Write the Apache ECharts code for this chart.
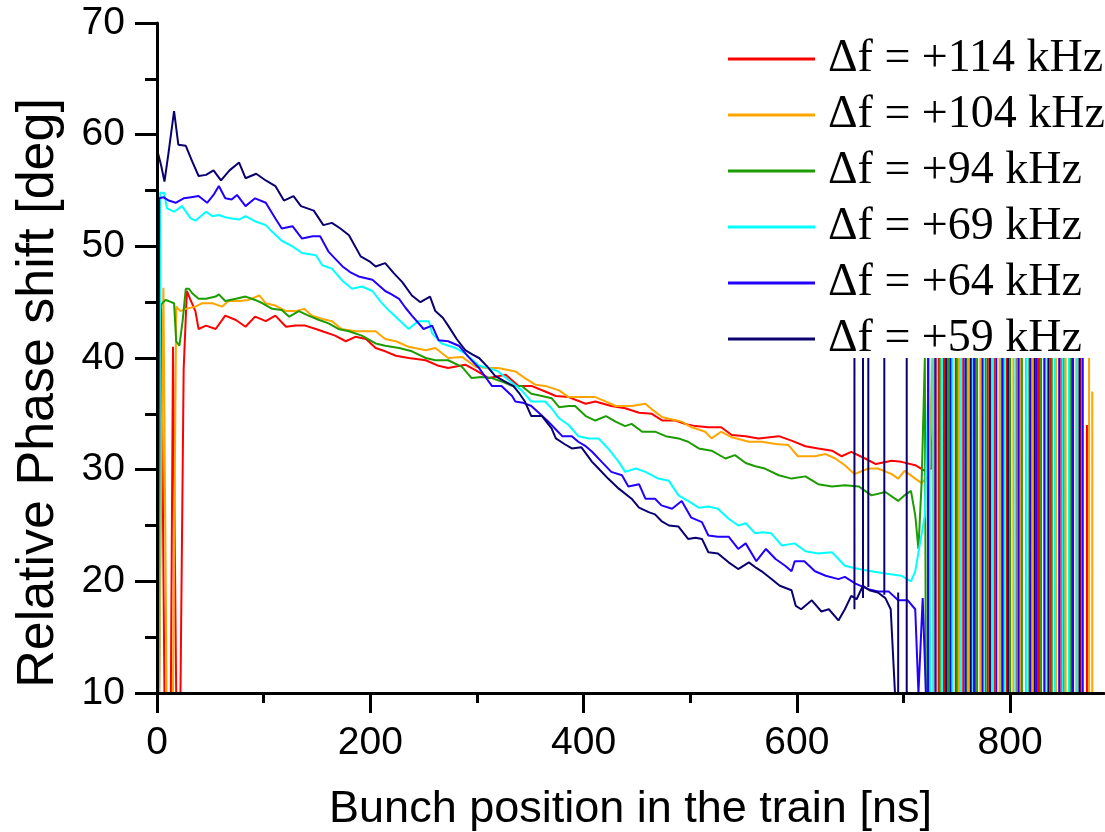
<!DOCTYPE html>
<html>
<head>
	<meta charset="utf-8">
	<title>Relative phase shift along the bunch train</title>
	<script src="https://cdn.jsdelivr.net/npm/echarts@6/dist/echarts.min.js"></script>
	<style>
		html, body { margin: 0; padding: 0; background: #fff; }
		#chart { width: 1105px; height: 832px; }
	</style>
</head>
<body>
<div id="chart"></div>
<script>
	// legend labels, top to bottom
	var names = ['Δf = +114 kHz', 'Δf = +104 kHz', 'Δf = +94 kHz', 'Δf = +69 kHz', 'Δf = +64 kHz', 'Δf = +59 kHz'];
	var colors = ['#ff0000', '#ffa500', '#1c9c00', '#00ffff', '#2200ff', '#0a0070'];

	var xTicks = [0, 200, 400, 600, 800];
	var xMinorTicks = [100, 300, 500, 700];

	// [position ns, phase deg]
	var f114 = [[2,10],[4,44.5],[7,10],[13,10],[15,41],[18,10],[22,10],[25,39],[28,46],[31,45.3],[36,44.2],[39,42.6],[46,42.9],[55,42.6],[64,43.8],[74,43.4],[83,42.8],[92,43.7],[102,43.3],[111,43.8],[121,42.8],[130,42.9],[139,42.9],[149,42.6],[155,42.4],[167,42.0],[177,41.5],[186,41.9],[196,41.7],[205,40.9],[214,40.6],[224,40.2],[236,40.0],[252,39.8],[264,39.3],[273,39.1],[289,39.4],[299,38.9],[311,38.2],[327,38.5],[339,37.5],[351,37.5],[364,37.0],[374,36.6],[386,36.5],[402,35.9],[411,36.1],[426,35.7],[439,35.5],[452,35.1],[464,35.0],[474,34.4],[486,34.4],[495,34.1],[505,33.9],[517,33.8],[529,33.8],[539,33.1],[552,33.0],[564,32.8],[583,33.0],[595,32.6],[608,32.1],[620,31.9],[633,31.7],[642,31.2],[651,31.6],[664,31.0],[674,30.5],[689,30.8],[698,30.7],[711,30.4],[720,29.9],[726,30.1],[729,40],[730,10]];
	var f104 = [[0,43],[2,10],[6,46.3],[9,10],[15,10],[18,44.6],[22,44.2],[27,44.4],[36,44.6],[42,44.9],[52,44.9],[61,44.6],[67,45.1],[77,45.1],[86,45.2],[96,45.6],[102,44.9],[111,44.7],[121,44.2],[130,44.2],[138,44.4],[145,43.8],[155,43.5],[164,43.3],[173,42.6],[186,42.4],[196,42.4],[205,42.4],[214,41.7],[224,41.5],[236,41.0],[252,40.7],[261,40.9],[273,40.0],[286,40.1],[299,39.2],[311,39.1],[320,39.1],[336,38.8],[345,38.2],[355,37.6],[364,37.5],[377,37.1],[386,36.5],[398,36.5],[411,36.5],[421,36.1],[430,35.7],[445,35.7],[458,35.9],[464,35.4],[474,34.7],[483,34.5],[492,34.3],[501,33.8],[508,33.6],[514,33.4],[520,32.8],[529,33.4],[539,32.9],[555,32.5],[567,32.5],[580,32.3],[592,32.2],[601,31.2],[617,31.2],[627,31.4],[636,31.0],[645,30.4],[654,29.6],[667,30.1],[676,30.1],[689,29.6],[695,29.2],[701,29.9],[711,29.2],[717,28.8],[724,29.5],[727,40],[728,10]];
	var f94 = [[0,42],[4,44.8],[8,45.2],[11,45.1],[16,44.9],[18,41.5],[21,41.1],[24,43.3],[27,46.2],[30,46.2],[33,45.8],[39,45.3],[46,45.3],[55,45.5],[58,45.7],[64,45.1],[74,45.3],[83,45.5],[92,45.2],[99,44.9],[108,44.4],[117,44.3],[124,43.7],[133,44.2],[142,43.8],[152,43.4],[161,43.1],[170,42.6],[180,42.4],[192,42.0],[205,41.3],[214,41.1],[227,40.9],[239,40.6],[252,40.0],[261,39.8],[273,39.8],[286,39.2],[295,38.2],[304,38.3],[314,38.2],[323,37.9],[333,37.5],[342,37.5],[351,36.8],[361,36.6],[370,36.4],[377,35.6],[386,35.7],[392,35.7],[402,34.8],[411,34.4],[421,34.8],[430,34.3],[439,33.9],[445,34.1],[455,33.4],[467,33.4],[477,33.0],[489,32.8],[498,32.5],[508,31.9],[520,31.7],[533,31.0],[542,31.3],[552,30.6],[561,30.3],[570,30.1],[583,29.5],[595,29.2],[608,29.4],[620,28.7],[633,28.5],[645,28.6],[658,28.5],[670,27.7],[683,28.0],[695,27.2],[701,27.7],[707,28.1],[711,25.9],[714,22.9],[717,28.9],[720,40],[721,10]];
	var f69 = [[2,10],[3,54.8],[6.6,54.8],[9.4,53.4],[16,53.1],[23.5,53.6],[31.6,52.5],[36,52.3],[46,53.1],[52,52.7],[58,52.8],[64,52.6],[70,52.5],[77,52.4],[83,52.7],[93,52.2],[102,51.9],[108,51.3],[117,50.5],[127,50.0],[136,49.4],[149,49.2],[155,48.3],[164,48.0],[174,46.9],[183,46.2],[192,46.4],[202,46.0],[210,45.0],[218,44.2],[227,43.4],[236,42.6],[245,43.3],[255,43.3],[258,42.2],[267,41.3],[280,40.9],[289,40.4],[302,39.3],[311,39.1],[320,38.8],[330,38.0],[342,37.1],[351,36.1],[364,36.1],[370,35.5],[377,34.6],[386,34.0],[395,33.0],[405,32.8],[414,32.8],[423,31.9],[433,30.7],[439,29.8],[449,30.1],[458,29.8],[470,29.2],[480,29.0],[489,27.7],[498,27.2],[508,26.6],[517,26.7],[526,26.5],[536,25.6],[545,25.0],[552,25.2],[561,24.3],[568,24.4],[576,24.3],[586,23.2],[598,23.4],[608,22.7],[620,22.5],[633,22.6],[645,21.4],[658,21.1],[670,20.9],[683,20.7],[698,20.5],[707,20.0],[711,20.9],[714,22.6],[720,25.9],[724,40],[725,10]];
	var f64 = [[1,10],[2,54.3],[6,54.4],[11,54.1],[17.5,53.9],[25,54.3],[32,54.4],[39,54.5],[47,53.9],[53,54.6],[58,55.4],[64,54.3],[70,54.2],[75,54.6],[83,53.6],[92,54.3],[102,53.9],[111,52.5],[117,51.6],[127,51.8],[136,50.7],[146,50.9],[153,50.9],[161,49.5],[167,48.9],[174,48.2],[181,47.7],[189,47.3],[202,47.0],[214,46.0],[220,45.7],[227,45.3],[233,44.5],[239,43.8],[250,42.6],[258,42.9],[264,41.6],[273,41.5],[283,41.1],[292,40.1],[302,39.1],[308,38.3],[314,37.5],[323,37.5],[333,36.6],[336,36.1],[343,36.0],[351,35.7],[359,35.0],[367,34.3],[374,33.6],[380,33.0],[389,33.0],[395,32.5],[402,32.1],[408,31.6],[417,30.7],[426,29.8],[436,29.5],[442,28.5],[452,28.7],[458,27.4],[467,27.4],[473,26.8],[483,26.5],[492,27.2],[501,25.7],[511,25.3],[517,24.1],[526,24.0],[536,24.0],[545,22.9],[552,23.4],[562,21.8],[571,22.9],[580,22.0],[589,21.4],[595,20.9],[598,21.8],[607,21.8],[617,20.9],[627,20.5],[639,20.2],[645,20.4],[655,19.8],[667,19.3],[676,19.1],[686,19.1],[695,18.3],[704,18.3],[711,17.5],[714,10],[718,18.5],[721,10]];
	var f59 = [[0,58.7],[4,57.2],[7,55.8],[11,58.5],[16,62.1],[20,59.1],[27,59.0],[33,57.6],[39,56.3],[46,56.4],[53,56.8],[60,55.9],[68,56.8],[77,57.5],[83,56.1],[93,56.5],[102,55.9],[111,55.4],[119,54.1],[128,54.5],[135,53.6],[147,53.2],[156,51.9],[164,52.1],[172,51.6],[180,51.0],[191,49.1],[200,48.6],[205,48.2],[214,48.5],[222,47.6],[230,46.8],[239,45.6],[247,45.0],[256,45.5],[261,44.2],[268,43.6],[273,42.9],[281,41.7],[289,40.7],[296,40.3],[302,40.0],[310,39.2],[317,38.4],[326,37.9],[334,37.5],[340,36.8],[345,36.1],[351,34.8],[361,34.8],[370,33.7],[374,32.8],[382,32.3],[389,31.9],[398,32.0],[408,30.7],[414,30.1],[423,29.2],[433,28.3],[445,27.4],[452,26.6],[461,26.2],[467,26.0],[473,25.4],[480,25.0],[489,24.9],[498,23.8],[505,23.9],[511,23.8],[517,22.6],[526,22.5],[536,21.7],[545,21.1],[555,21.7],[562,21.2],[567,20.9],[575,20.3],[584,19.6],[595,19.2],[599,17.8],[604,17.5],[614,18.3],[623,17.3],[630,17.5],[639,16.5],[645,17.5],[651,18.7],[656,18.4],[662,19.6],[668,19.2],[676,19.0],[683,18.5],[688,17.5],[692,10]];

	// noisy vertical strokes past the end of the train: [position ns, low deg, high deg]
	var spikes114 = [[733,10,40],[738,10,40],[749,10,40],[756,10,40],[767,10,40],[779,10,40],[785,10,40],[797,10,40],[806,10,40],[815,10,40],[827,10,40],[838,10,40],[848,10,40],[858,10,40],[866,10,40],[872,10,34]];
	var spikes104 = [[731,10,40],[744,10,40],[752,10,40],[761,10,40],[772,10,40],[782,10,40],[790,10,40],[803,10,40],[810,10,40],[821,10,40],[833,10,40],[843,10,40],[852,10,40],[862,10,40],[868,10,40],[874,10,40],[877,10,37]];
	var spikes94 = [[724,10,40],[734,10,40],[742,10,40],[750,10,40],[759,10,40],[769,10,40],[777,10,40],[792,10,40],[800,10,40],[811,10,40],[818,10,40],[829,10,40],[839,10,40],[850,10,40],[856,10,40]];
	var spikes69 = [[728,10,40],[736,10,40],[746,10,40],[754,10,40],[764,10,40],[775,10,40],[784,10,40],[795,10,40],[805,10,40],[815,10,40],[824,10,40],[835,10,40],[842,10,40],[849,10,40],[855,10,40],[863,10,40]];
	var spikes64 = [[723,10,40],[730,10,40],[740,10,40],[744,10,40],[758,10,40],[766,10,40],[774,10,40],[787,10,40],[793,10,40],[808,10,40],[819,10,40],[825,10,40],[832,10,40],[846,10,40],[859,10,40],[868,10,40]];
	var spikes59 = [[654,17.5,40],[662,18.5,40],[667,19.5,40],[682,18.8,40],[695,10,19],[703,10,40],[740,10,40],[763,10,40],[781,10,40],[798,10,40],[823,10,40],[836,10,40],[865,10,40]];

	function build(main, spikes) {
		var d = main.slice();
		spikes.forEach(function (s) {
			d.push([s[0], '-']);
			d.push([s[0], s[1]]);
			d.push([s[0], s[2]]);
		});
		return d;
	}

	var curves = [build(f114, spikes114), build(f104, spikes104), build(f94, spikes94),
		build(f69, spikes69), build(f64, spikes64), build(f59, spikes59)];

	var sans = '"Liberation Sans", Arial, Helvetica, sans-serif';
	var serif = '"Liberation Serif", "Times New Roman", serif';
	var black = { color: '#000', width: 3 };

	var chart = echarts.init(document.getElementById('chart'));
	chart.setOption({
		animation: false,
		backgroundColor: '#fff',
		grid: { left: 157, right: 1, top: 23, bottom: 139, containLabel: false, outerBoundsMode: 'none' },
		legend: {
			orient: 'vertical',
			left: 723,
			top: 31,
			icon: 'rect',
			itemWidth: 87,
			itemHeight: 3,
			itemGap: 10,
			textStyle: { fontFamily: serif, fontSize: 46, color: '#000', padding: [0, 0, 0, 8] },
			data: names
		},
		xAxis: [{
			type: 'value', min: 0, max: 888, position: 'bottom', z: 10,
			axisLine: { show: true, lineStyle: black },
			axisTick: { show: true, customValues: xTicks, length: 20, lineStyle: black },
			axisLabel: { customValues: xTicks, fontFamily: sans, fontSize: 39, color: '#000', margin: 31 },
			splitLine: { show: false },
			name: 'Bunch position in the train [ns]',
			nameLocation: 'middle',
			nameGap: 94,
			nameTextStyle: { fontFamily: sans, fontSize: 45, color: '#000' }
		}, {
			type: 'value', min: 0, max: 888, position: 'bottom', z: 10,
			axisLine: { show: false },
			axisTick: { show: true, customValues: xMinorTicks, length: 10, lineStyle: black },
			axisLabel: { show: false },
			splitLine: { show: false }
		}],
		yAxis: {
			type: 'value', min: 10, max: 70, interval: 10, z: 10,
			axisLine: { show: true, lineStyle: black },
			axisTick: { show: true, length: 22, lineStyle: black },
			minorTick: { show: true, splitNumber: 2, length: 12, lineStyle: black },
			axisLabel: { fontFamily: sans, fontSize: 39, color: '#000', margin: 32 },
			splitLine: { show: false },
			name: 'Relative Phase shift [deg]',
			nameLocation: 'middle',
			nameGap: 92,
			nameTextStyle: { fontFamily: sans, fontSize: 52, color: '#000', padding: [0, 70, 0, 0] }
		},
		series: names.map(function (n, i) {
			return {
				name: n,
				type: 'line',
				xAxisIndex: 0,
				data: curves[i],
				showSymbol: false,
				symbol: 'none',
				connectNulls: false,
				color: colors[i],
				lineStyle: { color: colors[i], width: 2 }
			};
		})
	});
</script>
</body>
</html>
